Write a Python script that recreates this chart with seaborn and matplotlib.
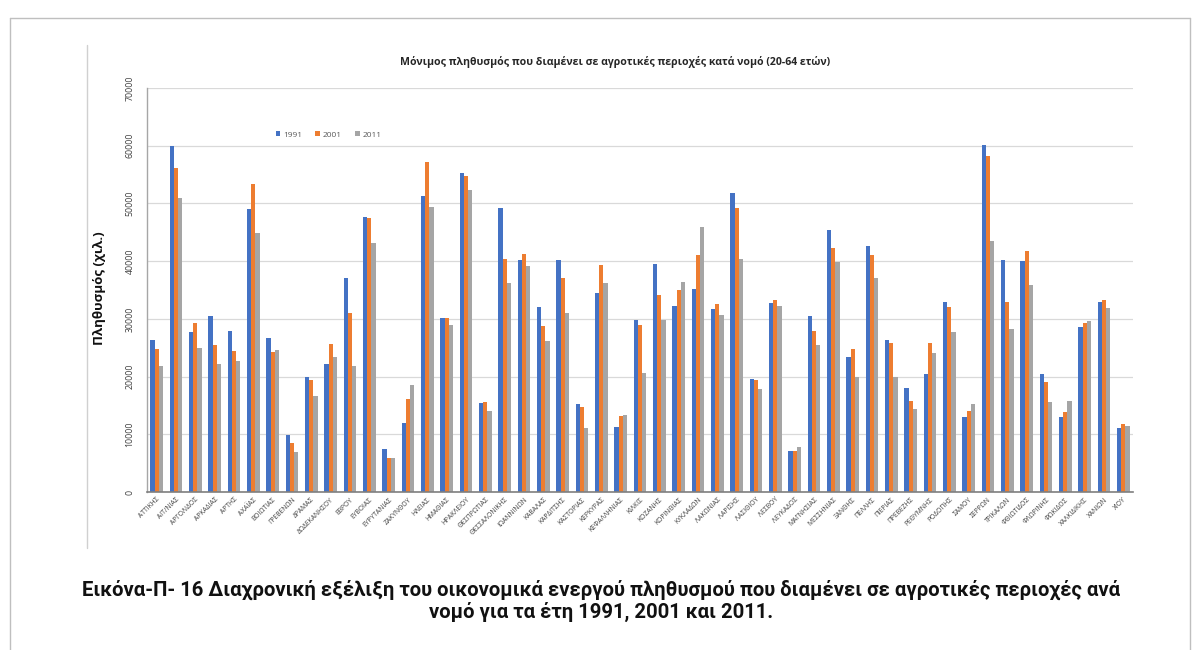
import matplotlib
matplotlib.use("Agg")
import matplotlib.pyplot as plt
from matplotlib.lines import Line2D
from matplotlib.patches import Patch
import pandas as pd
import seaborn as sns

# Prefectures (genitive form, as on the axis)
nomoi = [
    "ΑΤΤΙΚΗΣ", "ΑΙΤ/ΝΙΑΣ", "ΑΡΓΟΛΙΔΟΣ", "ΑΡΚΑΔΙΑΣ", "ΑΡΤΗΣ", "ΑΧΑΪΑΣ",
    "ΒΟΙΩΤΙΑΣ", "ΓΡΕΒΕΝΩΝ", "ΔΡΑΜΑΣ", "ΔΩΔΕΚΑΝΗΣΟΥ", "ΕΒΡΟΥ", "ΕΥΒΟΙΑΣ",
    "ΕΥΡΥΤΑΝΙΑΣ", "ΖΑΚΥΝΘΟΥ", "ΗΛΕΙΑΣ", "ΗΜΑΘΙΑΣ", "ΗΡΑΚΛΕΙΟΥ",
    "ΘΕΣΠΡΩΤΙΑΣ", "ΘΕΣΣΑΛΟΝΙΚΗΣ", "ΙΩΑΝΝΙΝΩΝ", "ΚΑΒΑΛΑΣ", "ΚΑΡΔΙΤΣΗΣ",
    "ΚΑΣΤΟΡΙΑΣ", "ΚΕΡΚΥΡΑΣ", "ΚΕΦΑΛΛΗΝΙΑΣ", "ΚΙΛΚΙΣ", "ΚΟΖΑΝΗΣ",
    "ΚΟΡΙΝΘΙΑΣ", "ΚΥΚΛΑΔΩΝ", "ΛΑΚΩΝΙΑΣ", "ΛΑΡΙΣΗΣ", "ΛΑΣΙΘΙΟΥ", "ΛΕΣΒΟΥ",
    "ΛΕΥΚΑΔΟΣ", "ΜΑΓΝΗΣΙΑΣ", "ΜΕΣΣΗΝΙΑΣ", "ΞΑΝΘΗΣ", "ΠΕΛΛΗΣ", "ΠΙΕΡΙΑΣ",
    "ΠΡΕΒΕΖΗΣ", "ΡΕΘΥΜΝΗΣ", "ΡΟΔΟΠΗΣ", "ΣΑΜΟΥ", "ΣΕΡΡΩΝ", "ΤΡΙΚΑΛΩΝ",
    "ΦΘΙΩΤΙΔΟΣ", "ΦΛΩΡΙΝΗΣ", "ΦΩΚΙΔΟΣ", "ΧΑΛΚΙΔΙΚΗΣ", "ΧΑΝΙΩΝ", "ΧΙΟΥ",
]

pop_1991 = [
    26400, 60000, 27750, 30500, 27850, 49000, 26750, 9830, 19950, 22150,
    37050, 47600, 7500, 12000, 51300, 30100, 55200, 15500, 49150, 40200,
    32000, 40200, 15200, 34450, 11270, 29750, 39500, 32150, 35200, 31700,
    51850, 19550, 32800, 7050, 30450, 45450, 23400, 42600, 26300, 18100,
    20400, 32900, 12950, 60050, 40200, 40100, 20500, 12950, 28600, 32950,
    11150,
]
pop_2001 = [
    24700, 56200, 29200, 25550, 24500, 53300, 24200, 8440, 19350, 25700,
    31100, 47450, 5950, 16050, 57200, 30100, 54700, 15600, 40400, 41300,
    28800, 37000, 14750, 39400, 13200, 29000, 34200, 35000, 41050, 32600,
    49250, 19350, 33350, 7150, 27850, 42350, 24850, 41100, 25800, 15800,
    25850, 32100, 14000, 58250, 33000, 41700, 19050, 13850, 29350, 33350,
    11850,
]
pop_2011 = [
    21850, 51000, 25000, 22150, 22650, 44850, 24550, 7000, 16600, 23400,
    21850, 43100, 5950, 18500, 49400, 28950, 52400, 14000, 36250, 39200,
    26250, 31050, 11100, 36250, 13300, 20700, 29750, 36400, 45950, 30650,
    40450, 17850, 32200, 7800, 25450, 39900, 19950, 37050, 19950, 14350,
    24100, 27700, 15300, 43500, 28300, 35850, 15600, 15800, 29650, 31800,
    11500,
]

years = ["1991", "2001", "2011"]
colors = ["#4472C4", "#ED7D31", "#A5A5A5"]

title = "Μόνιμος πληθυσμός που διαμένει σε αγροτικές περιοχές κατά νομό (20-64 ετών)"
ylabel = "Πληθυσμός (χιλ.)"
caption = ("Εικόνα-Π- 16 Διαχρονική εξέλιξη του οικονομικά ενεργού πληθυσμού που διαμένει σε αγροτικές περιοχές ανά\n"
           "νομό για τα έτη 1991, 2001 και 2011.")

df = pd.DataFrame({
    "Νομός": nomoi * 3,
    "Έτος": [y for y in years for _ in nomoi],
    "Πληθυσμός": pop_1991 + pop_2001 + pop_2011,
})

sns.set_theme(style="white")
plt.rcParams["font.family"] = ["Open Sans", "DejaVu Sans"]

W, H = 1201, 650
fig = plt.figure(figsize=(W / 100, H / 100), dpi=100)
fig.patch.set_facecolor("white")


def fx(px):
    return px / W


def fy(py):
    return 1 - py / H


ax = fig.add_axes([fx(147), fy(492), fx(1133) - fx(147), fy(88) - fy(492)])

sns.barplot(
    data=df, x="Νομός", y="Πληθυσμός", hue="Έτος",
    palette=colors, width=0.64, errorbar=None, saturation=1,
    linewidth=0, ax=ax, legend=False,
)

ax.set_xlim(-0.5, len(nomoi) - 0.5)
ax.set_ylim(0, 70000)
ax.set_yticks(range(0, 70001, 10000))
ax.yaxis.grid(True, color="#D9D9D9", linewidth=0.9)
ax.set_axisbelow(True)
for s in ["top", "right"]:
    ax.spines[s].set_visible(False)
ax.spines["left"].set_color("#A6A6A6")
ax.spines["left"].set_linewidth(1.0)
ax.spines["bottom"].set_color("#7F7F7F")
ax.spines["bottom"].set_linewidth(1.2)

ax.set_xlabel("")
ax.set_ylabel("")
ax.tick_params(axis="both", length=0)
ax.tick_params(axis="y", pad=9)
for lab in ax.get_yticklabels():
    lab.set_rotation(90)
    lab.set_va("center")
    lab.set_fontsize(6.3)
    lab.set_color("#404040")
ax.set_xticks(range(len(nomoi)))
ax.set_xticklabels(nomoi, rotation=45, ha="right", rotation_mode="anchor",
                   fontsize=4.9, color="#404040")
ax.tick_params(axis="x", pad=3)

# Legend
handles = [Patch(facecolor=c, edgecolor="none") for c in colors]
fig.legend(handles, years, loc="center left",
           bbox_to_anchor=(fx(268), fy(135)), ncol=3, frameon=False,
           fontsize=6, handlelength=0.55, handleheight=0.55,
           handletextpad=0.35, columnspacing=1.6, labelcolor="#595959")

fig.text(fx(615), fy(62), title, ha="center", va="center",
         fontsize=7.6, fontweight="bold", color="#262626")
fig.text(fx(100), fy(288), ylabel, ha="center", va="center", rotation=90,
         fontsize=9.5, fontweight="bold", color="#111111")

fig.text(fx(601), fy(601), caption, ha="center", va="center",
         fontsize=14.6, fontweight="bold", color="#111111",
         family=["Roboto", "DejaVu Sans"], linespacing=1.15)

# Page frame and the left edge of the chart box
frame_kw = dict(transform=fig.transFigure, color="#BFBFBF", linewidth=1.0)
fig.add_artist(Line2D([fx(10), fx(1190)], [fy(18), fy(18)], **frame_kw))
fig.add_artist(Line2D([fx(10), fx(10)], [fy(18), fy(650)], **frame_kw))
fig.add_artist(Line2D([fx(1190), fx(1190)], [fy(18), fy(650)], **frame_kw))
fig.add_artist(Line2D([fx(87), fx(87)], [fy(45), fy(548)],
                      transform=fig.transFigure, color="#D0D0D0", linewidth=1.0))

fig.savefig("out.png", dpi=100, facecolor="white")
